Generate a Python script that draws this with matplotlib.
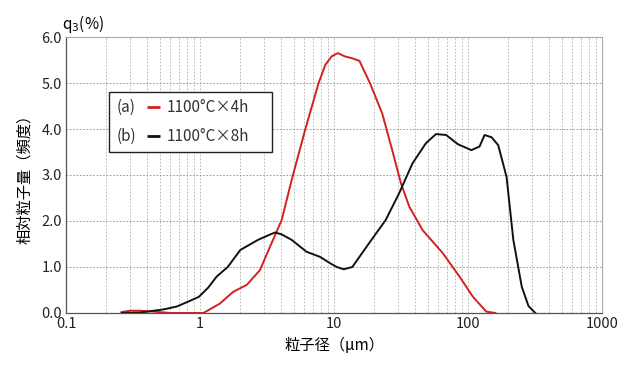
import matplotlib
matplotlib.use('Agg')
import matplotlib.pyplot as plt
from matplotlib.ticker import LogLocator, FixedLocator, NullFormatter
from matplotlib.patches import Rectangle

plt.rcParams['font.family'] = ['Noto Sans CJK JP', 'DejaVu Sans']

# particle size (um) and frequency (%)
size_4h = [0.26, 0.3, 0.35, 0.45, 0.6, 1.06, 1.4, 1.77, 2.23, 2.8, 3.33, 4.07, 4.83,
           6.09, 7.66, 8.6, 9.6, 10.7, 12.0, 13.6, 15.5, 18.6, 22.9, 27.2, 31.6, 36.5,
           45.9, 64.9, 86.5, 109, 137, 160]
freq_4h = [0.02, 0.05, 0.05, 0.03, 0.0, 0.0, 0.2, 0.46, 0.61, 0.93, 1.44, 2.02, 2.89,
           3.98, 4.99, 5.39, 5.58, 5.65, 5.58, 5.54, 5.48, 4.99, 4.34, 3.54, 2.82, 2.31,
           1.80, 1.30, 0.79, 0.35, 0.03, 0.0]

size_8h = [0.26, 0.36, 0.54, 0.67, 0.82, 0.98, 1.15, 1.33, 1.61, 2.0, 2.71, 3.3, 3.63,
           4.06, 4.83, 5.6, 6.25, 7.87, 9.5, 10.5, 11.8, 13.7, 18.2, 24.3, 30.6, 38.5,
           48.5, 57.7, 68.7, 84, 106, 122, 133, 150, 168, 194, 218, 252, 283, 318]
freq_8h = [0.0, 0.01, 0.08, 0.14, 0.25, 0.35, 0.55, 0.79, 1.0, 1.37, 1.59, 1.7, 1.75,
           1.71, 1.59, 1.44, 1.33, 1.22, 1.07, 1.0, 0.95, 1.0, 1.51, 2.02, 2.6, 3.25,
           3.69, 3.89, 3.87, 3.67, 3.54, 3.62, 3.87, 3.82, 3.65, 2.96, 1.59, 0.57,
           0.15, 0.0]

labels = ['1100°C×4h', '1100°C×8h']
tags = ['(a)', '(b)']
colors = ['#d42020', '#111111']

fig = plt.figure(figsize=(6.31, 3.65), dpi=100)
ax = fig.add_axes([0.1046, 0.1425, 0.8494, 0.7561])

ax.plot(size_4h, freq_4h, color=colors[0], lw=1.4)
ax.plot(size_8h, freq_8h, color=colors[1], lw=1.4)

ax.set_xscale('log')
ax.set_xlim(0.1, 1000)
ax.set_ylim(0, 6)
ax.xaxis.set_major_locator(FixedLocator([0.1, 1, 10, 100, 1000]))
ax.set_xticklabels(['0.1', '1', '10', '100', '1000'])
ax.xaxis.set_minor_locator(LogLocator(base=10, subs=range(2, 10)))
ax.xaxis.set_minor_formatter(NullFormatter())
ax.set_yticks([0, 1, 2, 3, 4, 5, 6])
ax.set_yticklabels(['0.0', '1.0', '2.0', '3.0', '4.0', '5.0', '6.0'])
ax.tick_params(which='both', length=0, labelsize=10.5, colors='#222222', pad=3)

ax.grid(which='both', axis='x', color='#b0b0b0', ls=(0, (2, 2)), lw=0.6)
ax.grid(which='major', axis='y', color='#8a8a8a', ls=(0, (2, 2)), lw=0.6)
ax.set_axisbelow(True)

for side in ['top', 'right']:
    ax.spines[side].set_color('#aaaaaa')
    ax.spines[side].set_linewidth(0.8)
for side in ['left', 'bottom']:
    ax.spines[side].set_color('#555555')
    ax.spines[side].set_linewidth(0.9)

ax.set_xlabel('粒子径（μm）', fontsize=11, labelpad=4)
ax.set_ylabel('相対粒子量（頻度）', fontsize=11, labelpad=6)
fig.text(0.098, 0.935, 'q$_3$(%)', fontsize=11, ha='left', va='center')

# legend box drawn by hand so the tag sits before the line sample
box = Rectangle((0.08, 0.585), 0.305, 0.215, transform=ax.transAxes,
                facecolor='white', edgecolor='#222222', lw=1.0, zorder=5)
ax.add_patch(box)
for i in range(2):
    yy = 0.745 - i * 0.105
    ax.text(0.095, yy, tags[i], transform=ax.transAxes, fontsize=11,
            va='center', ha='left', zorder=6, color='#333333')
    ax.plot([0.152, 0.176], [yy, yy], transform=ax.transAxes, color=colors[i],
            lw=2, zorder=6, solid_capstyle='butt')
    ax.text(0.188, yy, labels[i], transform=ax.transAxes, fontsize=11,
            va='center', ha='left', zorder=6, color='#333333')

fig.savefig('out.png', dpi=100)
